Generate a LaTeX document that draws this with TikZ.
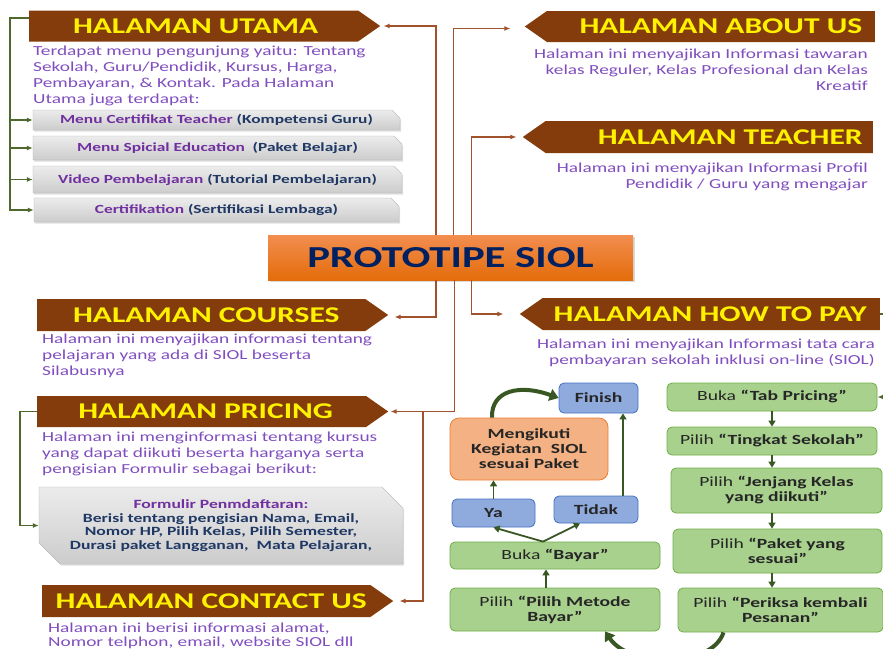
\documentclass[tikz,border=0pt]{standalone}
\usepackage{fontspec}
\setmainfont{Carlito}[FakeStretch=1.4]
\usepackage{tikz}
\usetikzlibrary{arrows.meta,shapes.symbols,shapes.misc,shadows,positioning}

\definecolor{bannerbrown}{RGB}{132,60,12}
\definecolor{linkbrown}{RGB}{160,82,45}
\definecolor{descpurple}{RGB}{128,78,190}
\definecolor{boxpurple}{RGB}{112,48,160}
\definecolor{boxnavy}{RGB}{31,56,100}
\definecolor{titlenavy}{RGB}{0,32,96}
\definecolor{leftgreen}{RGB}{79,105,45}
\definecolor{flowfill}{RGB}{169,209,142}
\definecolor{flowborder}{RGB}{112,173,71}
\definecolor{flowarrow}{RGB}{56,87,35}
\definecolor{bluefill}{RGB}{143,170,220}
\definecolor{blueborder}{RGB}{68,114,196}
\definecolor{orangefill}{RGB}{244,177,131}
\definecolor{orangeborder}{RGB}{237,125,49}
\definecolor{flowtext}{RGB}{38,38,38}

\begin{document}
\begin{tikzpicture}[x=1pt, y=-1pt, >={Latex[length=6pt,width=5pt]}]

		\tikzset{
			banner/.style={shape=signal, signal pointer angle=70, fill=bannerbrown, minimum height=31pt, inner sep=0pt},
			bannerright/.style={banner, signal to=east, anchor=west},
			bannerleft/.style={banner, signal to=west, anchor=east},
			bannertext/.style={text=yellow, font=\fontsize{22.5}{24}\selectfont\bfseries},
			desc/.style={text=descpurple, font=\fontsize{13.8}{16}\selectfont, inner sep=0pt},
			graybox/.style={chamfered rectangle, chamfered rectangle corners=north east, chamfered rectangle xsep=5pt,
				draw=gray!60, top color=gray!15, bottom color=gray!40, drop shadow={opacity=0.25, shadow xshift=1pt, shadow yshift=-1.5pt},
				font=\fontsize{12.4}{13.5}\selectfont\bfseries, inner sep=0pt},
			link/.style={draw=linkbrown, line width=1.6pt, ->},
			greenlink/.style={draw=leftgreen, line width=1.6pt, ->},
			flowbox/.style={rectangle, rounded corners=5pt, draw=flowborder, line width=0.8pt, fill=flowfill, text=flowtext,
				align=center, font=\fontsize{14}{15}\selectfont, inner sep=0pt},
			bluebox/.style={flowbox, draw=blueborder, fill=bluefill},
			orangebox/.style={flowbox, draw=orangeborder, fill=orangefill, rounded corners=9pt},
			flowline/.style={draw=flowarrow, line width=1.8pt, -{Triangle[length=6pt,width=7pt]}},
			bigcurve/.style={draw=flowarrow, line width=4pt, -{Triangle[length=9pt,width=12pt]}},
		}

		\useasboundingbox (0,0) rectangle (883,648);

		% banners
		\node [bannerright, minimum width=351pt, label={[bannertext, xshift=2pt]center:HALAMAN UTAMA}] (utama) at (29,26) {};
		\node [bannerleft, minimum width=350pt, label={[bannertext, xshift=10pt]center:HALAMAN ABOUT US}] (about) at (875,26.5) {};
		\node [bannerleft, minimum width=350pt, minimum height=32pt, label={[bannertext, xshift=21pt]center:HALAMAN TEACHER}] (teacher) at (873,137) {};
		\node [bannerright, minimum width=351pt, minimum height=32pt, label={[bannertext, xshift=5pt]center:HALAMAN COURSES}] (courses) at (37,315) {};
		\node [bannerright, minimum width=351pt, label={[bannertext, xshift=4pt]center:HALAMAN PRICING}] (pricing) at (37,411.5) {};
		\node [bannerright, minimum width=351pt, minimum height=32pt, label={[bannertext, xshift=5pt]center:HALAMAN CONTACT US}] (contact) at (42,601) {};
		\node [bannerleft, minimum width=360pt, minimum height=32pt, label={[bannertext, xshift=-1pt]center:HALAMAN HOW TO PAY}] (howto) at (880,314) {};

		\node [rectangle, minimum width=365pt, minimum height=45pt, top color={rgb,255:red,242;green,142;blue,80}, bottom color={rgb,255:red,228;green,108;blue,10},
			drop shadow={opacity=0.3, shadow xshift=1.5pt, shadow yshift=-2pt}, text=titlenavy, font=\fontsize{30.5}{32}\selectfont\bfseries] (proto) at (450.5,257.5) {PROTOTIPE SIOL};

		% texts
		\node [desc, anchor=north west, align=left] (utamatext) at (33,46) {Terdapat menu pengunjung yaitu: Tentang\\Sekolah, Guru/Pendidik, Kursus, Harga,\\Pembayaran, \& Kontak. Pada Halaman\\Utama juga terdapat:};
		\node [desc, anchor=north east, align=right] (abouttext) at (868,49) {Halaman ini menyajikan Informasi tawaran\\kelas Reguler, Kelas Profesional dan Kelas\\Kreatif};
		\node [desc, anchor=north east, align=right] (teachertext) at (868,163) {Halaman ini menyajikan Informasi Profil\\Pendidik / Guru yang mengajar};
		\node [desc, anchor=north west, align=left] (coursestext) at (42,334) {Halaman ini menyajikan informasi tentang\\pelajaran yang ada di SIOL beserta\\Silabusnya};
		\node [desc, anchor=north west, align=left] (pricingtext) at (42,432) {Halaman ini menginformasi tentang kursus\\yang dapat diikuti beserta harganya serta\\pengisian Formulir sebagai berikut:};
		\node [desc, anchor=north east, align=right] (howtotext) at (875,339) {Halaman ini menyajikan Informasi tata cara\\pembayaran sekolah inklusi on-line (SIOL)};
		\node [desc, anchor=north west, align=left, font=\fontsize{13.8}{13.5}\selectfont] (contacttext) at (48,623) {Halaman ini berisi informasi alamat,\\Nomor telphon, email, website SIOL dll};

		% menu boxes
		\node [graybox, minimum width=367pt, minimum height=20pt] (menu1) at (216.5,120) {\color{boxpurple}Menu Certifikat Teacher \color{boxnavy}(Kompetensi Guru)};
		\node [graybox, minimum width=369pt, minimum height=24pt] (menu2) at (217.5,148) {\color{boxpurple}Menu Spicial Education \ \color{boxnavy}(Paket Belajar)};
		\node [graybox, minimum width=369pt, minimum height=27pt] (menu3) at (217.5,179.5) {\color{boxpurple}Video Pembelajaran \color{boxnavy}(Tutorial Pembelajaran)};
		\node [graybox, minimum width=365pt, minimum height=24pt] (menu4) at (216.5,210) {\color{boxpurple}Certifikation \color{boxnavy}(Sertifikasi Lembaga)};
		\node [graybox, chamfered rectangle corners={north east,south west}, chamfered rectangle xsep=18pt, minimum width=364pt, minimum height=77pt, align=center, text=boxnavy,
			font=\fontsize{12.6}{13.5}\selectfont\bfseries] (formulir) at (221,525.5)
			{{\color{boxpurple}Formulir Penmdaftaran:}\\Berisi tentang pengisian Nama, Email,\\Nomor HP, Pilih Kelas, Pilih Semester,\\Durasi paket Langganan, \ Mata Pelajaran,};

		% flow boxes
		\node [bluebox, minimum width=79pt, minimum height=30pt] (finish) at (598.5,398) {\textbf{Finish}};
		\node [orangebox, minimum width=158pt, minimum height=62pt] (ikut) at (529,449) {\textbf{Mengikuti}\\\textbf{Kegiatan \ SIOL}\\\textbf{sesuai Paket}};
		\node [bluebox, minimum width=83pt, minimum height=28pt] (ya) at (493.5,513) {\textbf{Ya}};
		\node [bluebox, minimum width=84pt, minimum height=27pt] (tidak) at (596,509.5) {\textbf{Tidak}};
		\node [flowbox, minimum width=210pt, minimum height=27pt] (bayar) at (555,555.5) {Buka \textbf{“Bayar”}};
		\node [flowbox, minimum width=210pt, minimum height=43pt] (metode) at (555,609.5) {Pilih \textbf{“Pilih Metode}\\\textbf{Bayar”}};
		\node [flowbox, minimum width=210pt, minimum height=28pt] (tab) at (772,397) {Buka \textbf{“Tab Pricing”}};
		\node [flowbox, minimum width=210pt, minimum height=28pt] (tingkat) at (772,441) {Pilih \textbf{“Tingkat Sekolah”}};
		\node [flowbox, minimum width=211pt, minimum height=45pt] (jenjang) at (776.5,490.5) {Pilih \textbf{“Jenjang Kelas}\\\textbf{yang diikuti”}};
		\node [flowbox, minimum width=209pt, minimum height=44pt] (paket) at (777.5,551) {Pilih \textbf{“Paket yang}\\\textbf{sesuai”}};
		\node [flowbox, minimum width=205pt, minimum height=44pt] (periksa) at (780.5,610) {Pilih \textbf{“Periksa kembali}\\\textbf{Pesanan”}};

		% brown connectors
		\draw [link, shorten >=3pt] ([xshift=-14.5pt]proto.north) |- (utama.east);
		\draw [link, shorten >=14pt] ([xshift=3pt]proto.north) |- ([yshift=-2pt]about.west);
		\draw [link, shorten >=6pt] ([xshift=21pt]proto.north) |- (teacher.west);
		\draw [link, shorten >=6pt] ([xshift=-14.5pt]proto.south) |- ([yshift=-2pt]courses.east);
		\draw [link, shorten >=16pt] ([xshift=21pt]proto.south) |- (howto.west);
		\draw [link, shorten >=2pt] ([xshift=4pt]proto.south) |- (pricing.east);
		\coordinate (split) at (423,411.5);
		\draw [link, shorten >=6pt] (split) |- (contact.east);

		% green connectors
		\coordinate (gtop) at (10,18);
		\draw [greenlink] ([yshift=8pt]utama.west) -- (gtop) |- (menu4.west);
		\foreach \m in {menu1,menu2,menu3}
			\draw [greenlink] (\m.west -| gtop) -- (\m.west);
		\coordinate (gmid) at (20,411.5);
		\draw [greenlink] (pricing.west) -- (gmid) |- (formulir.west);
		\draw [greenlink] (howto.east) -- ++(12,0) |- (tab.east);

		% flow
		\draw [flowline] (tab.south) -- (tingkat.north);
		\draw [flowline] (tingkat.south) -- (tingkat.south |- jenjang.north);
		\draw [flowline] (tingkat.south |- jenjang.south) -- (tingkat.south |- paket.north);
		\draw [flowline] (tingkat.south |- paket.south) -- (tingkat.south |- periksa.north);
		\draw [flowline] ([xshift=-9pt]metode.north) -- ([xshift=-9pt]bayar.south);
		\draw [flowline] ([xshift=-12pt]bayar.north) -- (ya.south);
		\draw [flowline] ([xshift=-12pt]bayar.north) -- ([xshift=-16pt]tidak.south);
		\draw [flowline] (ya.north) -- (ya.north |- ikut.south);
		\draw [flowline] ([xshift=27pt]tidak.north) -- ([xshift=27pt]tidak.north |- finish.south);
		\draw [bigcurve] ([xshift=-37pt]ikut.north) .. controls (491,390) and (520,384) .. (finish.west);
		\draw [bigcurve] ([xshift=-57pt]periksa.south) .. controls (712,668) and (630,668) .. ([xshift=50pt]metode.south);

\end{tikzpicture}
\end{document}
